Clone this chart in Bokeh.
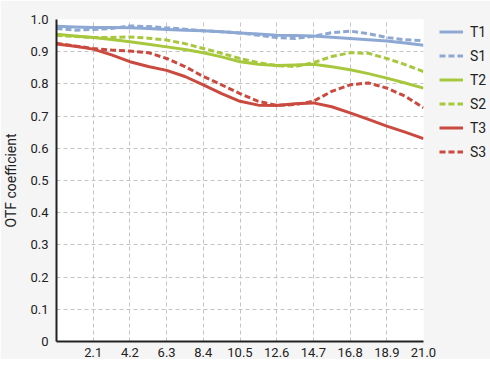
from bokeh.plotting import figure
from bokeh.models import Legend, LegendItem, FixedTicker
from bokeh.embed import file_html
from bokeh.resources import INLINE

x = [0, 1.05, 2.1, 3.15, 4.2, 5.25, 6.3, 7.35, 8.4, 9.45, 10.5,
     11.55, 12.6, 13.65, 14.7, 15.75, 16.8, 17.85, 18.9, 19.95, 21.0]
T1 = [0.979, 0.977, 0.975, 0.975, 0.974, 0.972, 0.969, 0.967, 0.965, 0.962, 0.958,
      0.955, 0.951, 0.950, 0.949, 0.945, 0.941, 0.937, 0.933, 0.927, 0.920]
S1 = [0.972, 0.967, 0.969, 0.972, 0.980, 0.978, 0.974, 0.970, 0.965, 0.962, 0.958,
      0.951, 0.944, 0.941, 0.948, 0.959, 0.964, 0.956, 0.944, 0.937, 0.934]
T2 = [0.954, 0.949, 0.944, 0.938, 0.931, 0.923, 0.915, 0.907, 0.897, 0.884, 0.869,
      0.861, 0.857, 0.859, 0.861, 0.853, 0.844, 0.832, 0.818, 0.803, 0.787]
S2 = [0.951, 0.947, 0.944, 0.944, 0.946, 0.942, 0.936, 0.925, 0.910, 0.895, 0.879,
      0.866, 0.857, 0.854, 0.866, 0.885, 0.897, 0.895, 0.879, 0.860, 0.838]
T3 = [0.924, 0.917, 0.908, 0.890, 0.869, 0.854, 0.842, 0.823, 0.797, 0.770, 0.746,
      0.734, 0.733, 0.738, 0.741, 0.729, 0.710, 0.690, 0.669, 0.650, 0.630]
S3 = [0.926, 0.918, 0.910, 0.905, 0.902, 0.897, 0.879, 0.854, 0.823, 0.797, 0.770,
      0.746, 0.733, 0.736, 0.746, 0.777, 0.797, 0.803, 0.787, 0.762, 0.726]

x_ticks = [2.1, 4.2, 6.3, 8.4, 10.5, 12.6, 14.7, 16.8, 18.9, 21.0]
y_ticks = [0, 0.1, 0.2, 0.3, 0.4, 0.5, 0.6, 0.7, 0.8, 0.9, 1.0]
y_labels = ["0", "0.1", "0.2", "0.3", "0.4", "0.5", "0.6", "0.7", "0.8", "0.9", "1.0"]

BLUE = "#8ea8d4"
GREEN = "#a7c83c"
RED = "#cb4a40"
BG = "#f5f5f5"
FONT = "Roboto"

p = figure(frame_width=367, frame_height=322, x_range=(0, 21), y_range=(0, 1),
           output_backend="svg", toolbar_location=None,
           min_border_left=48, min_border_top=19, min_border_bottom=16, min_border_right=59)
p.background_fill_color = "white"
p.border_fill_color = BG
p.outline_line_color = None

series = [("T1", T1, BLUE, "solid"), ("S1", S1, BLUE, "6 3"),
          ("T2", T2, GREEN, "solid"), ("S2", S2, GREEN, "6 3"),
          ("T3", T3, RED, "solid"), ("S3", S3, RED, "6 3")]
items = []
for name, ys, col, dash in series:
    r = p.line(x, ys, line_color=col, line_width=3, line_dash=dash, line_join="round")
    items.append(LegendItem(label=name, renderers=[r]))

legend = Legend(items=items, location=(16, 181), orientation="vertical",
                glyph_width=24, glyph_height=17, label_height=17, spacing=7,
                label_standoff=7, padding=0, margin=0,
                border_line_color=None, background_fill_alpha=0,
                label_text_font=FONT, label_text_font_size="14px", label_text_color="#222222")
p.add_layout(legend, "right")

p.xaxis.ticker = FixedTicker(ticks=x_ticks)
p.xaxis.major_label_overrides = {21.0: "21.0"}
p.yaxis.ticker = FixedTicker(ticks=y_ticks)
p.yaxis.major_label_overrides = {v: s for v, s in zip(y_ticks, y_labels)}
p.yaxis.axis_label = "OTF coefficient"

for ax in (p.xaxis[0], p.yaxis[0]):
    ax.axis_line_color = "#222222"
    ax.axis_line_width = 2
    ax.major_tick_line_color = None
    ax.minor_tick_line_color = None
    ax.major_tick_out = 0
    ax.major_tick_in = 0
    ax.major_label_text_font = FONT
    ax.major_label_text_font_size = "13px"
    ax.major_label_text_color = "#222222"
    ax.axis_label_text_font = FONT
    ax.axis_label_text_font_size = "14px"
    ax.axis_label_text_font_style = "normal"
    ax.axis_label_text_color = "#222222"
p.xaxis.major_label_standoff = 6
p.yaxis.major_label_standoff = 8
p.yaxis.axis_label_standoff = 8

p.grid.grid_line_color = "#c4c4c4"
p.grid.grid_line_dash = "4 3"
p.grid.grid_line_width = 1

open("out.html", "w").write(file_html(p, INLINE))
